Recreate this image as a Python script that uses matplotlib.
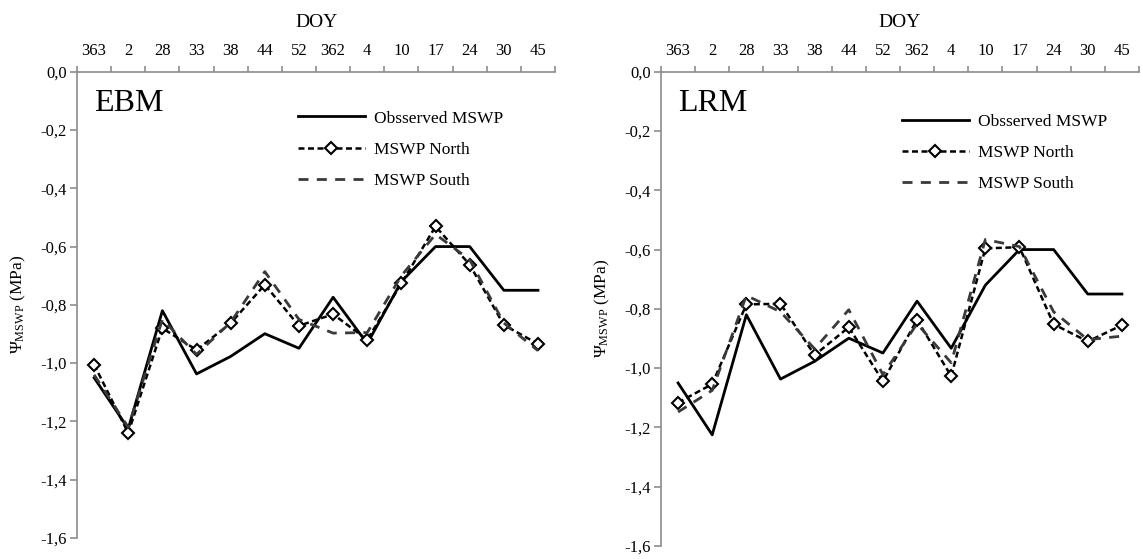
import matplotlib
matplotlib.use('Agg')
import matplotlib.pyplot as plt
import numpy as np

plt.rcParams['font.family'] = ['Liberation Serif', 'DejaVu Serif']
plt.rcParams['mathtext.fontset'] = 'custom'
plt.rcParams['mathtext.rm'] = 'Liberation Serif'
plt.rcParams['mathtext.it'] = 'Liberation Serif:italic'

doy = ['363', '2', '28', '33', '38', '44', '52', '362', '4', '10', '17', '24', '30', '45']
y_ticks = [0.0, -0.2, -0.4, -0.6, -0.8, -1.0, -1.2, -1.4, -1.6]

observed = [-1.05, -1.225, -0.82, -1.037, -0.977, -0.899, -0.949, -0.774, -0.933, -0.72,
            -0.6, -0.6, -0.75, -0.75]

ebm_north = [-1.005, -1.24, -0.88, -0.955, -0.863, -0.731, -0.872, -0.832, -0.92, -0.726,
             -0.531, -0.662, -0.869, -0.934]
ebm_south = [-1.04, -1.22, -0.85, -0.97, -0.86, -0.686, -0.85, -0.897, -0.895, -0.70,
             -0.558, -0.645, -0.862, -0.957]

lrm_north = [-1.116, -1.054, -0.785, -0.783, -0.956, -0.862, -1.044, -0.837, -1.027, -0.596,
             -0.592, -0.852, -0.91, -0.855]
lrm_south = [-1.148, -1.075, -0.755, -0.81, -0.935, -0.803, -1.022, -0.85, -0.982, -0.566,
             -0.59, -0.81, -0.904, -0.892]

GRAY = '#8c8c8c'


def draw_panel(ax, name, north, south, leg_x, leg_y, name_y):
    x = np.arange(len(doy)) + 0.5
    ax.plot(x, observed, color='black', lw=2.0, label='Obsserved MSWP')
    ax.plot(x, north, color='black', lw=1.8, dashes=(2.4, 1.4), marker='D', ms=6,
            mfc='white', mec='black', mew=1.5, label='MSWP North')
    ax.plot(x, south, color='#3a3a3a', lw=2.0, dashes=(3.6, 3.0), label='MSWP South')

    ax.set_xlim(0, len(doy))
    ax.set_ylim(-1.6, 0)

    for s in ['right', 'bottom']:
        ax.spines[s].set_visible(False)
    for s in ['left', 'top']:
        ax.spines[s].set_color(GRAY)
        ax.spines[s].set_linewidth(1.2)

    ax.xaxis.tick_top()
    ax.xaxis.set_label_position('top')
    ax.set_xticks(np.arange(len(doy) + 1))
    ax.set_xticklabels([])
    ax.set_xticks(x, minor=True)
    ax.set_xticklabels(doy, minor=True, fontsize=12)
    ax.tick_params(axis='x', which='major', direction='out', length=4, color=GRAY, width=1.2)
    ax.tick_params(axis='x', which='minor', length=0, pad=9)
    ax.set_xlabel('DOY', fontsize=14, labelpad=12)

    ax.set_yticks(y_ticks)
    ax.set_yticklabels([f'{v:.1f}'.replace('.', ',') for v in y_ticks], fontsize=12)
    ax.tick_params(axis='y', direction='out', length=5, color=GRAY, width=1.2, pad=2.5)
    ax.set_ylabel(r'Ψ$_{\mathrm{MSWP}}$ (MPa)', fontsize=12.5, labelpad=9)

    ax.text(0.035, name_y, name, transform=ax.transAxes, fontsize=23, va='baseline', ha='left')

    ax.legend(loc='upper left', bbox_to_anchor=(leg_x, leg_y), frameon=False, fontsize=12.5,
              handlelength=3.85, handletextpad=0.52, labelspacing=0.88, borderpad=0,
              borderaxespad=0)


fig = plt.figure(figsize=(11.43, 5.59), dpi=100)
ax1 = fig.add_axes([0.0674, 0.0376, 0.4182, 0.8341])
ax2 = fig.add_axes([0.5783, 0.0233, 0.4182, 0.8484])

draw_panel(ax1, 'EBM', ebm_north, ebm_south, 0.462, 0.917, 0.916)
draw_panel(ax2, 'LRM', lrm_north, lrm_south, 0.504, 0.912, 0.918)

fig.savefig('out.png', dpi=100)
